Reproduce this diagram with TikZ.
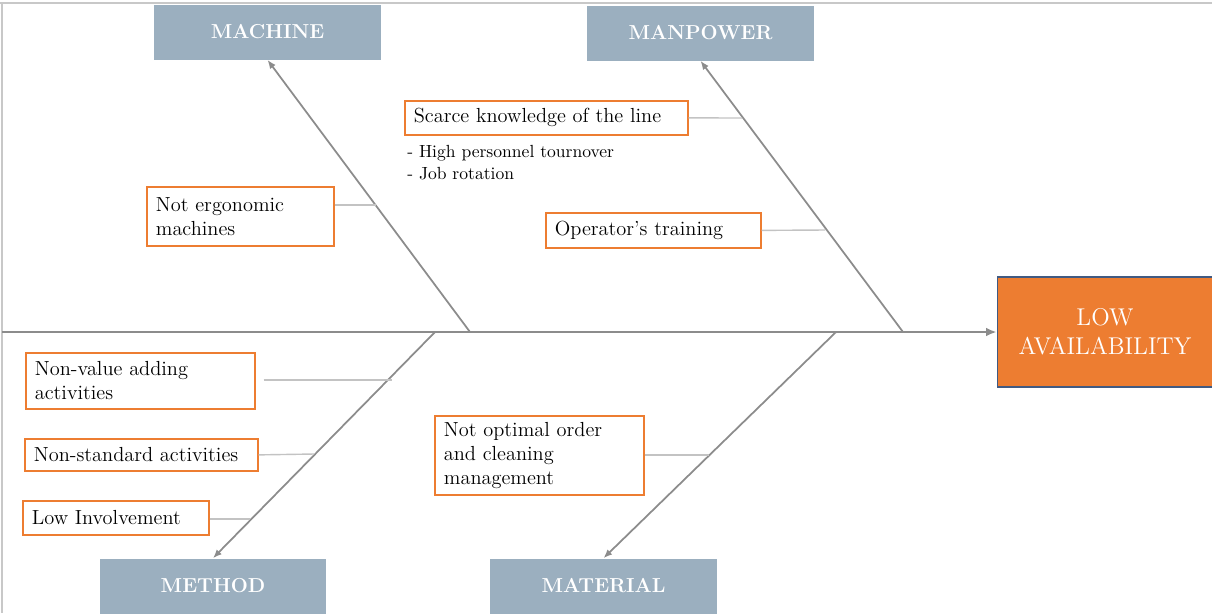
\documentclass[tikz,border=0pt]{standalone}
\usepackage{tikz}
\usepackage{xcolor}
\usetikzlibrary{arrows.meta}

\definecolor{headFill}{RGB}{155,175,191}
\definecolor{causeOrange}{RGB}{237,125,49}
\definecolor{effectBorder}{RGB}{65,90,130}
\definecolor{boneGray}{RGB}{140,140,140}
\definecolor{twigGray}{RGB}{195,195,195}
\definecolor{frameGray}{RGB}{200,200,200}

\begin{document}
\begin{tikzpicture}[x=0.02cm,y=-0.02cm,
  category/.style={fill=headFill, text=white, minimum width=4.54cm, minimum height=1.1cm,
    font=\fontsize{11.5}{13}\selectfont\bfseries},
  cause/.style={draw=causeOrange, line width=1pt, fill=white, anchor=north west, align=left,
    inner xsep=0.18cm, inner ysep=0pt, text width=#1, font=\fontsize{11.6}{13.6}\selectfont},
  bone/.style={draw=boneGray, line width=1pt, -{Latex[length=5pt,width=4pt]}},
  twig/.style={draw=twigGray, line width=0.8pt}]
\useasboundingbox (0,0) rectangle (1212,613);

% frame
\draw[frameGray, line width=1.5pt] (0,3) -- (1212,3);
\draw[frameGray, line width=1.5pt] (2,3) -- (2,613);

% effect and categories
\node[fill=causeOrange, draw=effectBorder, line width=1pt, text=white, align=center,
  minimum width=4.3cm, minimum height=2.2cm, font=\fontsize{13.8}{16.5}\selectfont]
  (effect) at (1105,332) {LOW\\AVAILABILITY};
\node[category] (machine) at (267.5,32) {MACHINE};
\node[category] (manpower) at (700.5,33) {MANPOWER};
\node[category] (method) at (213,586) {METHOD};
\node[category] (material) at (603.5,586) {MATERIAL};

% spine and bones
\coordinate (spineStart) at (2,332);
\coordinate (machineRoot) at (470,332);
\coordinate (manpowerRoot) at (903,332);
\coordinate (methodRoot) at (435,332);
\coordinate (materialRoot) at (836,332);
\draw[draw=boneGray, line width=1.3pt, -{Latex[length=6pt,width=5pt]}] (spineStart) -- (effect.west);
\draw[bone] (machineRoot) -- (machine.south);
\draw[bone] (manpowerRoot) -- (manpower.south);
\draw[bone] (methodRoot) -- (method.north);
\draw[bone] (materialRoot) -- (material.north);

% causes
\node[cause=3.38cm, minimum height=1.18cm] (ergo) at (146,186) {Not ergonomic\\machines};
\node[cause=5.3cm, minimum height=0.68cm] (scarce) at (404,100) {Scarce knowledge of the line};
\node[anchor=north west, align=left, inner sep=0pt, font=\fontsize{10}{12.5}\selectfont]
  (scarceNote) at (407,145) {- High personnel tournover\\- Job rotation};
\node[cause=3.94cm, minimum height=0.7cm] (training) at (545,212) {Operator's training};
\node[cause=4.22cm, minimum height=1.12cm] (nonvalue) at (25,352) {Non-value adding\\activities};
\node[cause=4.3cm, minimum height=0.64cm] (nonstd) at (24,438) {Non-standard activities};
\node[cause=3.36cm, minimum height=0.68cm] (lowinv) at (22,500) {Low Involvement};
\node[cause=3.82cm, minimum height=1.58cm] (order) at (434,415) {Not optimal order\\and cleaning\\management};

% twigs
\coordinate (ergoEnd) at (376,205);
\coordinate (scarceEnd) at (742,118);
\coordinate (trainingEnd) at (825,230);
\coordinate (nonvalueEnd) at (392,380);
\coordinate (nonstdEnd) at (314,454);
\coordinate (lowinvEnd) at (250,519);
\coordinate (orderEnd) at (709,455);
\draw[twig] (ergo.east |- ergoEnd) -- (ergoEnd);
\draw[twig] (scarce.east) -- (scarceEnd);
\draw[twig] (training.east) -- (trainingEnd);
\draw[twig] ([xshift=0.16cm]nonvalue.east |- nonvalueEnd) -- (nonvalueEnd);
\draw[twig] (nonstd.east) -- (nonstdEnd);
\draw[twig] (lowinv.east |- lowinvEnd) -- (lowinvEnd);
\draw[twig] (order.east |- orderEnd) -- (orderEnd);
\end{tikzpicture}
\end{document}
